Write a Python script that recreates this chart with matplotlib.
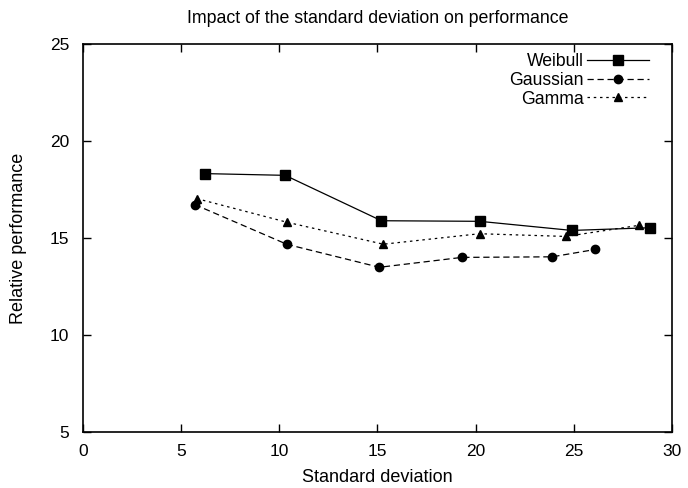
import matplotlib
matplotlib.use("Agg")
import matplotlib.pyplot as plt

plt.rcParams['font.family'] = ['Liberation Sans', 'DejaVu Sans']

# values
weibull_x = [6.2, 10.3, 15.2, 20.2, 24.9, 28.9]
weibull_y = [18.32, 18.23, 15.89, 15.86, 15.39, 15.53]

gaussian_x = [5.7, 10.4, 15.1, 19.3, 23.9, 26.1]
gaussian_y = [16.72, 14.67, 13.49, 14.0, 14.03, 14.41]

gamma_x = [5.8, 10.4, 15.3, 20.2, 24.6, 28.3]
gamma_y = [17.03, 15.81, 14.68, 15.22, 15.08, 15.65]

fig = plt.figure(figsize=(6.88, 4.88), dpi=100)
ax = fig.add_axes([0.1206, 0.1148, 0.8561, 0.795])

ax.plot(weibull_x, weibull_y, color='black', linestyle='-', linewidth=0.9,
        marker='s', markersize=7, label='Weibull')
ax.plot(gaussian_x, gaussian_y, color='black', linestyle=(0, (5, 3)), linewidth=0.9,
        marker='o', markersize=6, label='Gaussian')
ax.plot(gamma_x, gamma_y, color='black', linestyle=(0, (2, 3)), linewidth=0.9,
        marker='^', markersize=5.5, label='Gamma')

ax.set_xlim(0, 30)
ax.set_ylim(5, 25)
ax.set_xticks([0, 5, 10, 15, 20, 25, 30])
ax.set_yticks([5, 10, 15, 20, 25])

ax.tick_params(direction='in', length=6, width=1, top=True, right=True,
               labelsize=12.5)
ax.tick_params(axis='x', pad=9)
ax.tick_params(axis='y', pad=10)
for s in ax.spines.values():
    s.set_linewidth(1.2)

ax.set_xlabel('Standard deviation', fontsize=13, labelpad=7)
ax.set_ylabel('Relative performance', fontsize=13, labelpad=16)
ax.set_title('Impact of the standard deviation on performance', fontsize=12.8, pad=15)

leg = ax.legend(loc='upper right', frameon=False, fontsize=12.7, markerfirst=False,
                handlelength=3.5, handletextpad=0.2, labelspacing=0.1,
                borderaxespad=0.0, bbox_to_anchor=(0.973, 0.995))
for t in leg.get_texts():
    t.set_ha('right')

plt.savefig('out.png', dpi=100)
